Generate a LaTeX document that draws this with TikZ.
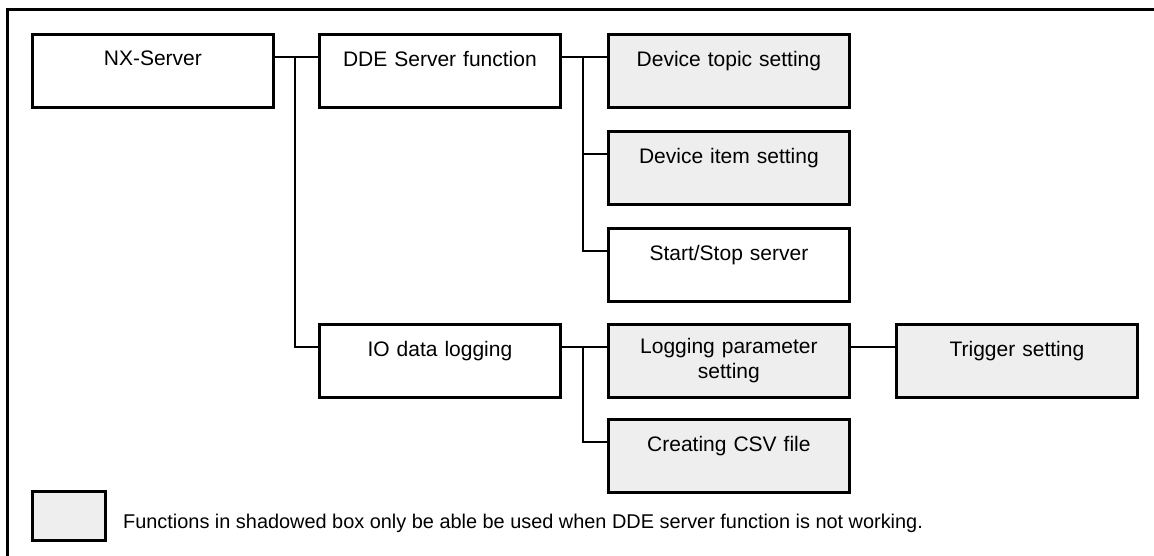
\documentclass[tikz,border=0pt]{standalone}
\usepackage{fontspec}
\setmainfont{Liberation Sans}
\definecolor{shade}{RGB}{238,238,238}
\tikzset{
  fbox/.style={draw, line width=2.8pt, inner sep=0pt, anchor=north west,
    minimum width=241pt, minimum height=73pt, text width=241pt, align=center,
    font=\fontsize{21}{25}\selectfont},
  sbox/.style={fbox, fill=shade},
  conn/.style={line width=1.8pt},
  frame/.style={line width=3pt}
}
\begin{document}
\begin{tikzpicture}[x=1pt,y=-1pt]
\useasboundingbox (0,0) rectangle (1154,556);
\clip (0,0) rectangle (1154,556);
\draw[frame] (7,10) rectangle (1200,600);

\node[fbox] (nx) at (31,33) {NX-Server\\\mbox{}};
\node[fbox] (dde) at (318,33) {DDE Server function\\\mbox{}};
\node[sbox] (topic) at (607,33) {Device topic setting\\\mbox{}};
\node[sbox] (item) at (607,130) {Device item setting\\\mbox{}};
\node[fbox] (ss) at (607,227) {Start/Stop server\\\mbox{}};
\node[fbox] (io) at (318,323) {IO data logging\\\mbox{}};
\node[sbox] (lp) at (607,323) {Logging parameter\\setting};
\node[sbox] (trig) at (895,323) {Trigger setting\\\mbox{}};
\node[sbox] (csv) at (607,418) {Creating CSV file\\\mbox{}};

\coordinate (j1) at (295,57);
\coordinate (j2) at (583,57);
\coordinate (j3) at (583,347);

\draw[conn] ([yshift=-24pt]nx.north east) -- ([yshift=-24pt]dde.north west);
\draw[conn] (j1) |- ([yshift=-24pt]io.north west);
\draw[conn] ([yshift=-24pt]dde.north east) -- ([yshift=-24pt]topic.north west);
\draw[conn] (j2) |- ([yshift=-24pt]ss.north west);
\draw[conn] (j2 |- item.north west) ++(0,24) -- ([yshift=-24pt]item.north west);
\draw[conn] ([yshift=-24pt]io.north east) -- ([yshift=-24pt]lp.north west);
\draw[conn] (j3) |- ([yshift=-24pt]csv.north west);
\draw[conn] ([yshift=-24pt]lp.north east) -- ([yshift=-24pt]trig.north west);

\node[draw, fill=shade, line width=2.8pt, inner sep=0pt, anchor=north west,
  minimum width=73pt, minimum height=49pt] (leg) at (31,490) {};
\node[anchor=west, inner sep=0pt, font=\fontsize{19.9}{25}\selectfont] (legtxt) at (123,523)
  {Functions in shadowed box only be able be used when DDE server function is not working.};
\end{tikzpicture}
\end{document}
